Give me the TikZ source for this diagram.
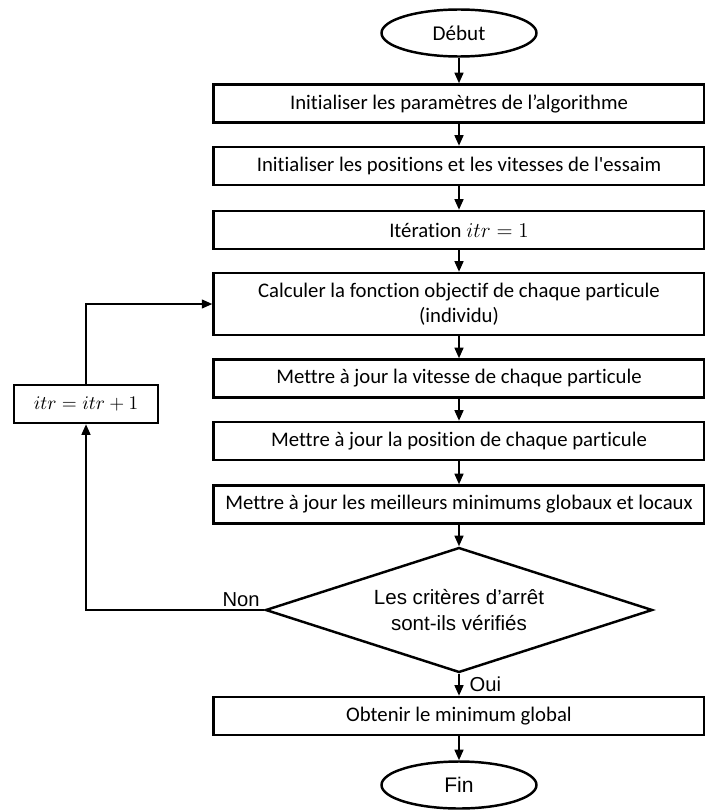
\documentclass[tikz,border=0pt]{standalone}
\usepackage{amsmath}
\usepackage{fontspec}
\setmainfont{Carlito}[Ligatures={TeXOff,NoCommon}]
\newfontfamily\arialfont{Liberation Sans}
\usetikzlibrary{arrows.meta,positioning,shapes.geometric}

\begin{document}
\begin{tikzpicture}[
            x=0.02cm, y=-0.02cm,
            font=\fontsize{11.8}{14}\selectfont,
            % styles des blocs
            startstop/.style={ellipse, draw=black, line width=1.4pt, minimum width=3.1cm, minimum height=0.94cm, inner sep=0pt, font=\fontsize{12}{14}\selectfont},
            process/.style={rectangle, draw=black, line width=1.4pt, minimum width=9.82cm, minimum height=0.76cm, text centered, inner sep=2pt},
            decision/.style={diamond, aspect=3.1, draw=black, line width=1.4pt, minimum width=7.74cm, minimum height=2.5cm, inner sep=0pt, align=center, font=\arialfont\fontsize{11.7}{14.5}\selectfont},
            counter/.style={rectangle, draw=black, line width=1.4pt, minimum width=2.88cm, minimum height=0.76cm, font=\fontsize{11.2}{14}\selectfont},
            lbl/.style={font=\arialfont\fontsize{11.5}{13}\selectfont, inner sep=1.5pt},
            arrow/.style={line width=1.1pt, -{Triangle[length=6pt, width=5pt]}}
        ]
        \useasboundingbox (0,0) rectangle (705,811);

        % Noeuds
        \node (start) [startstop] at (459,33) {Début};
        \node (init_param) [process] at (459,103.5) {Initialiser les paramètres de l’algorithme};
        \node (init_swarm) [process] at (459,166) {Initialiser les positions et les vitesses de l'essaim};
        \node (iter) [process] at (459,230) {Itération $itr = 1$};
        \node (fitness) [process, minimum height=1.24cm, align=center] at (459,304) {Calculer la fonction objectif de chaque particule\\(individu)};
        \node (speed) [process] at (459,378.5) {Mettre à jour la vitesse de chaque particule};
        \node (position) [process] at (459,441) {Mettre à jour la position de chaque particule};
        \node (best) [process] at (459,504.5) {Mettre à jour les meilleurs minimums globaux et locaux};
        \node (stop_check) [decision] at (459,610) {Les critères d’arrêt\\sont-ils vérifiés};
        \node (result) [process] at (459,716) {Obtenir le minimum global};
        \node (end) [startstop, font=\arialfont\fontsize{12}{14}\selectfont] at (459,785) {Fin};

        % Compteur (boucle a gauche)
        \node (incr) [counter] at (86,404) {$itr = itr + 1$};

        % Liaisons
        \draw [arrow] (start) -- (init_param);
        \draw [arrow] (init_param) -- (init_swarm);
        \draw [arrow] (init_swarm) -- (iter);
        \draw [arrow] (iter) -- (fitness);
        \draw [arrow] (fitness) -- (speed);
        \draw [arrow] (speed) -- (position);
        \draw [arrow] (position) -- (best);
        \draw [arrow] (best) -- (stop_check);

        % Branche Non -> retour
        \draw [arrow] (stop_check.west) -| node[lbl, pos=0.065, above] {Non} (incr.south);
        \draw [arrow] (incr.north) |- (fitness.west);

        % Branche Oui -> fin
        \draw [arrow] (stop_check.south) -- node[lbl, right, xshift=4pt] {Oui} (result);
        \draw [arrow] (result) -- (end);

    \end{tikzpicture}
\end{document}
